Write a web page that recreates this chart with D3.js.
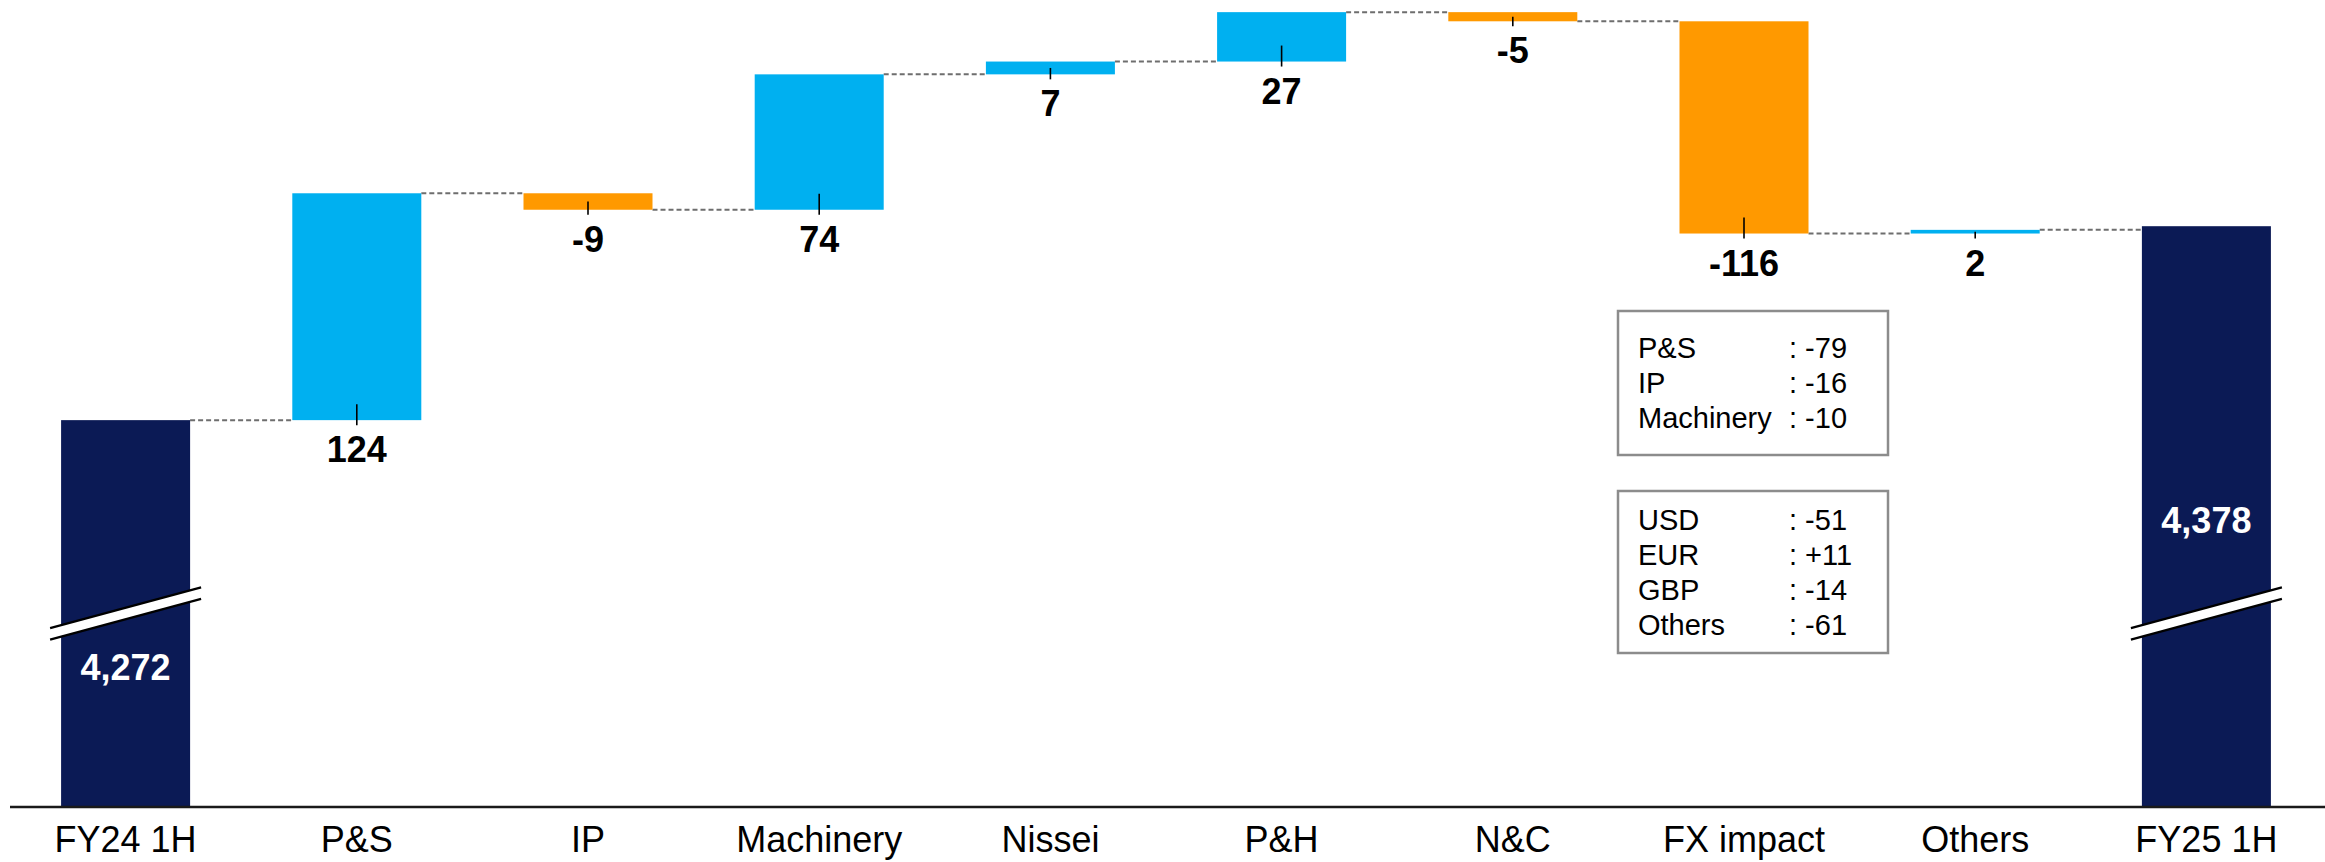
<!DOCTYPE html>
<html>
<head>
<meta charset="utf-8">
<script src="https://cdn.jsdelivr.net/npm/d3@7"></script>
<style>
  html, body { margin: 0; padding: 0; background: #fff; }
  svg { display: block; }
  text { font-family: "Liberation Sans", Arial, Helvetica, sans-serif; }
</style>
</head>
<body>
<script>
// Bridge categories and values
const categories = ["FY24 1H", "P&S", "IP", "Machinery", "Nissei", "P&H", "N&C", "FX impact", "Others", "FY25 1H"];
const startTotal = 4272;
const endTotal = 4378;
const changes = [124, -9, 74, 7, 27, -5, -116, 2];

// FX impact breakdowns shown in the side boxes
const segmentNames = ["P&S", "IP", "Machinery"];
const segmentValues = ["-79", "-16", "-10"];
const currencyNames = ["USD", "EUR", "GBP", "Others"];
const currencyValues = ["-51", "+11", "-14", "-61"];

const W = 2325, H = 862;
const COLORS = { total: "#0B1A55", up: "#00B0F0", down: "#FF9900" };

// Build the steps of the bridge
const steps = [];
steps.push({ name: categories[0], kind: "total", value: startTotal });
let running = startTotal;
changes.forEach((c, i) => {
  steps.push({ name: categories[i + 1], kind: c >= 0 ? "up" : "down", delta: c, from: running, to: running + c });
  running += c;
});
steps.push({ name: categories[categories.length - 1], kind: "total", value: endTotal });

const svg = d3.select("body").append("svg").attr("width", W).attr("height", H);

const baseY = 807;
const x = d3.scaleBand().domain(categories).range([10, 2322]).paddingInner(0.442).paddingOuter(0.221);
// broken value axis: only the top of the range is shown
const y = d3.scaleLinear().domain([4060, 4500]).range([808, 3]);

const bw = x.bandwidth();

// Connector lines between consecutive bars
const levels = steps.map(s => s.kind === "total" ? s.value : s.to);
for (let i = 0; i < steps.length - 1; i++) {
  const lvl = levels[i];
  svg.append("line")
    .attr("x1", x(steps[i].name) + bw)
    .attr("x2", x(steps[i + 1].name))
    .attr("y1", y(lvl)).attr("y2", y(lvl))
    .attr("stroke", "#6e6e6e").attr("stroke-width", 2)
    .attr("stroke-dasharray", "5,3");
}

// Bars
steps.forEach(s => {
  let top, bottom;
  if (s.kind === "total") {
    top = y(s.value); bottom = baseY;
  } else {
    top = y(Math.max(s.from, s.to)); bottom = y(Math.min(s.from, s.to));
  }
  s.top = top; s.bottom = bottom;
  svg.append("rect")
    .attr("x", x(s.name)).attr("width", bw)
    .attr("y", top).attr("height", bottom - top)
    .attr("fill", COLORS[s.kind]);
});

// Value markers and labels for the change bars
steps.filter(s => s.kind !== "total").forEach(s => {
  const cx = x(s.name) + bw / 2;
  const tTop = Math.max((s.top + s.bottom) / 2, s.bottom - 16);
  svg.append("line")
    .attr("x1", cx).attr("x2", cx)
    .attr("y1", tTop).attr("y2", s.bottom + 5)
    .attr("stroke", "#000").attr("stroke-width", 1.6);
  svg.append("text")
    .attr("x", cx).attr("y", s.bottom + 42)
    .attr("text-anchor", "middle")
    .attr("font-size", 36).attr("font-weight", "bold").attr("fill", "#000")
    .text(d3.format(",")(s.delta).replace("−", "-"));
});

// Axis break marks on the total bars
const slope = -0.27;
steps.filter(s => s.kind === "total").forEach((s, i) => {
  const x0 = x(s.name) - 11, x1 = x(s.name) + bw + 11;
  const cx = x(s.name) + bw / 2;
  const midY = 613.5;
  const yAt = (xx, off) => midY + off + (xx - cx) * slope;
  const gap = 5.8;
  svg.append("polygon")
    .attr("points", [[x0, yAt(x0, -gap)], [x1, yAt(x1, -gap)], [x1, yAt(x1, gap)], [x0, yAt(x0, gap)]].map(p => p.join(",")).join(" "))
    .attr("fill", "#fff");
  [-gap, gap].forEach(off => {
    svg.append("line")
      .attr("x1", x0).attr("y1", yAt(x0, off))
      .attr("x2", x1).attr("y2", yAt(x1, off))
      .attr("stroke", "#000").attr("stroke-width", 2.2);
  });
  // total value label, placed clear of the break
  svg.append("text")
    .attr("x", cx).attr("y", i === 0 ? midY + 66 : midY - 81)
    .attr("text-anchor", "middle")
    .attr("font-size", 36).attr("font-weight", "bold").attr("fill", "#fff")
    .text(d3.format(",")(s.value));
});

// Category axis
svg.append("line")
  .attr("x1", 10).attr("x2", W)
  .attr("y1", baseY).attr("y2", baseY)
  .attr("stroke", "#1a1a1a").attr("stroke-width", 2.5);

svg.selectAll(".cat").data(categories).enter().append("text")
  .attr("x", d => x(d) + bw / 2).attr("y", 852)
  .attr("text-anchor", "middle")
  .attr("font-size", 36).attr("fill", "#000")
  .text(d => d);

// Breakdown boxes
function noteBox(top, bottom, firstLine, names, values) {
  const left = 1618, right = 1888;
  svg.append("rect")
    .attr("x", left).attr("y", top)
    .attr("width", right - left).attr("height", bottom - top)
    .attr("fill", "#fff").attr("stroke", "#8c8c8c").attr("stroke-width", 2.5);
  names.forEach((n, i) => {
    const by = top + firstLine + i * 35.2;
    svg.append("text").attr("x", 1638).attr("y", by)
      .attr("font-size", 29).attr("fill", "#000").text(n);
    svg.append("text").attr("x", 1789).attr("y", by)
      .attr("font-size", 29).attr("fill", "#000").text(": " + values[i]);
  });
}
noteBox(311, 455, 47, segmentNames, segmentValues);
noteBox(491, 653, 38.5, currencyNames, currencyValues);
</script>
</body>
</html>
